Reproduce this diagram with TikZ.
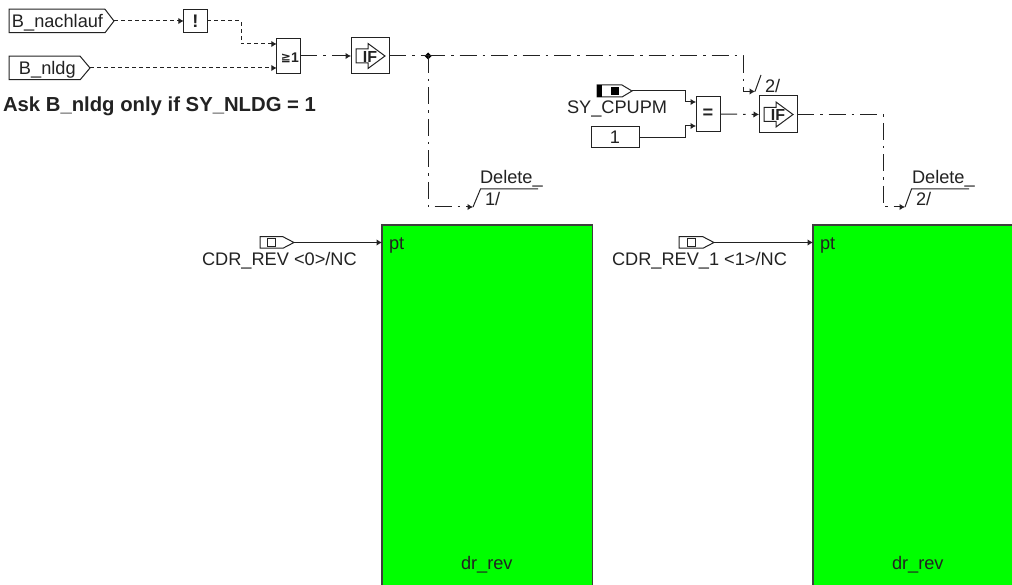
\documentclass[tikz,border=0pt]{standalone}
\usepackage{fontspec}
\setmainfont{Liberation Sans}
\newfontfamily\dejafont{DejaVu Sans}
\usetikzlibrary{arrows.meta,shapes.symbols,shapes.geometric,calc}
\definecolor{ink}{HTML}{222222}
\definecolor{blockgreen}{HTML}{00FF00}
\tikzset{
  every node/.style={inner sep=0pt,outer sep=0pt,font=\fontsize{18.2}{20}\selectfont,text=ink},
  line/.style={draw=ink,line width=1pt},
  wire/.style={line,-{Latex[length=5.5pt,width=6.5pt]}},
  dashwire/.style={wire,dash pattern=on 4pt off 3pt},
  dashdot/.style={dash pattern=on 17pt off 6pt on 2.5pt off 6pt},
  dashdotwire/.style={wire,dashdot},
  opbox/.style={draw=ink,line width=1pt,fill=white,rectangle},
  inport/.style={draw=ink,line width=1pt,fill=white,signal,signal to=east,signal from=nowhere,signal pointer angle=105},
  block/.style={draw=ink!70!gray,line width=1.4pt,fill=blockgreen,rectangle,anchor=north west},
  junction/.style={diamond,fill=black,minimum size=7pt},
  label/.style={anchor=base west},
}
\newcommand{\ifsym}[1]{%
  \draw[line,fill=white] ($(#1)+(-14,-7)$) -- ($(#1)+(-2,-7)$) -- ($(#1)+(-2,-12.5)$) -- ($(#1)+(15,0)$) -- ($(#1)+(-2,12.5)$) -- ($(#1)+(-2,7)$) -- ($(#1)+(-14,7)$) -- cycle;
  \node[font=\fontsize{16}{18}\selectfont\bfseries] at ($(#1)+(0,0.5)$) {IF};
}
\begin{document}
\begin{tikzpicture}[x=1pt,y=-1pt]
\useasboundingbox (0,0) rectangle (1012,585);
% green blocks
\node[block,minimum width=210.5pt,minimum height=380pt] (blockA) at (382,225) {};
\node[block,minimum width=220pt,minimum height=380pt] (blockB) at (813,225) {};
\node[label] at (389,250) {pt};
\node[label] at (820,250) {pt};
\node[label] at (461,569) {dr\_rev};
\node[label] at (892,569) {dr\_rev};
% top-left
\node[inport,minimum width=105pt,minimum height=23.5pt,anchor=east] (nach) at (114,21) {};
\node[label] at (12,27.5) {B\_nachlauf};
\node[inport,minimum width=81pt,minimum height=23.5pt,signal pointer angle=100,anchor=east] (nldg) at (90,68) {};
\node[label] at (19,74.5) {B\_nldg};
\node[opbox,minimum width=23.5pt,minimum height=23.5pt] (notb) at (195.5,21) {\bfseries !};
\node[opbox,minimum width=23.5pt,minimum height=35pt] (orb) at (288.5,56.5) {};
\node[font=\fontsize{12}{12}\selectfont\bfseries\dejafont] at (286,58) {≧};
\node[font=\fontsize{14}{14}\selectfont\bfseries] at (295,58) {1};
\node[opbox,minimum width=38pt,minimum height=36pt] (ifa) at (370,56) {};
\ifsym{ifa}
\node[anchor=base west,font=\fontsize{20.3}{22}\selectfont\bfseries] at (3,112) {Ask B\_nldg only if SY\_NLDG = 1};
\coordinate (jpos) at (428,56);
\node[junction] (jn) at (jpos) {};
\coordinate (sqA) at (473,207);
\coordinate (sqAtop) at (480.5,189);
\coordinate (sqAend) at (538,189);
\coordinate (sqT) at (755,91.5);
\draw[dashwire] (nach.east) -- (notb.west);
\draw[dashwire] (notb.east) -- (241,21) -- (241,44) -- (orb.west |- 0,44);
\draw[dashwire] (nldg.east) -- (orb.west |- nldg.east);
\draw[dashdotwire] (orb.east |- 0,56) -- (ifa.west);
\draw[line,dashdot] (ifa.east) -- (jn.center);
\draw[dashdotwire] (jn.center) -- (743,56) -- (743,91.5) -- (sqT);
\draw[dashdotwire] (jn.center) -- (428,207) -- (sqA);
\draw[line] (sqA) -- (sqAtop) -- (sqAend);
\node[label] at (480,184) {Delete\_};
\node[label] at (485,206) {1/};
\draw[line] (sqT) -- (761,75);
\node[label] at (765,93) {2/};
% middle
\node[inport,minimum width=35pt,minimum height=12pt,signal pointer angle=62,anchor=east] (cpu) at (632,91) {};
\fill[black] (597,85) rectangle (602,97);
\fill[black] (611,87) rectangle (619,95);
\node[label] at (567,114) {SY\_CPUPM};
\node[opbox,minimum width=48pt,minimum height=21pt] (one) at (615,137.5) {1};
\node[opbox,minimum width=24pt,minimum height=35pt] (eqb) at (708,114) {\bfseries =};
\node[opbox,minimum width=38pt,minimum height=37pt] (ifb) at (778,114.5) {};
\ifsym{ifb}
\draw[wire] (cpu.east) -- (685,91) -- (685,102) -- (eqb.west |- 0,102);
\draw[wire] (one.east) -- (685,137.5) -- (685,126) -- (eqb.west |- 0,126);
\draw[dashdotwire] (eqb.east) -- (ifb.west);
\coordinate (sqB) at (905,207);
\coordinate (sqBtop) at (911.5,189);
\coordinate (sqBend) at (969,189);
\draw[dashdotwire] (ifb.east) -- (883,114.5) -- (883,207) -- (sqB);
\draw[line] (sqB) -- (sqBtop) -- (sqBend);
\node[label] at (912,184) {Delete\_};
\node[label] at (916,206) {2/};
% bottom inputs
\node[inport,minimum width=34pt,minimum height=11.5pt,signal pointer angle=55,anchor=east] (cdra) at (294,242.5) {};
\draw[line] (267,239) rectangle (275,246.5);
\node[label] at (202,266) {CDR\_REV <0>/NC};
\draw[wire] (cdra.east) -- (blockA.west |- cdra.east);
\node[inport,minimum width=35pt,minimum height=11.5pt,signal pointer angle=55,anchor=east] (cdrb) at (714,242.5) {};
\draw[line] (687,239) rectangle (695,246.5);
\node[label] at (612,266) {CDR\_REV\_1 <1>/NC};
\draw[wire] (cdrb.east) -- (blockB.west |- cdrb.east);
\end{tikzpicture}
\end{document}
